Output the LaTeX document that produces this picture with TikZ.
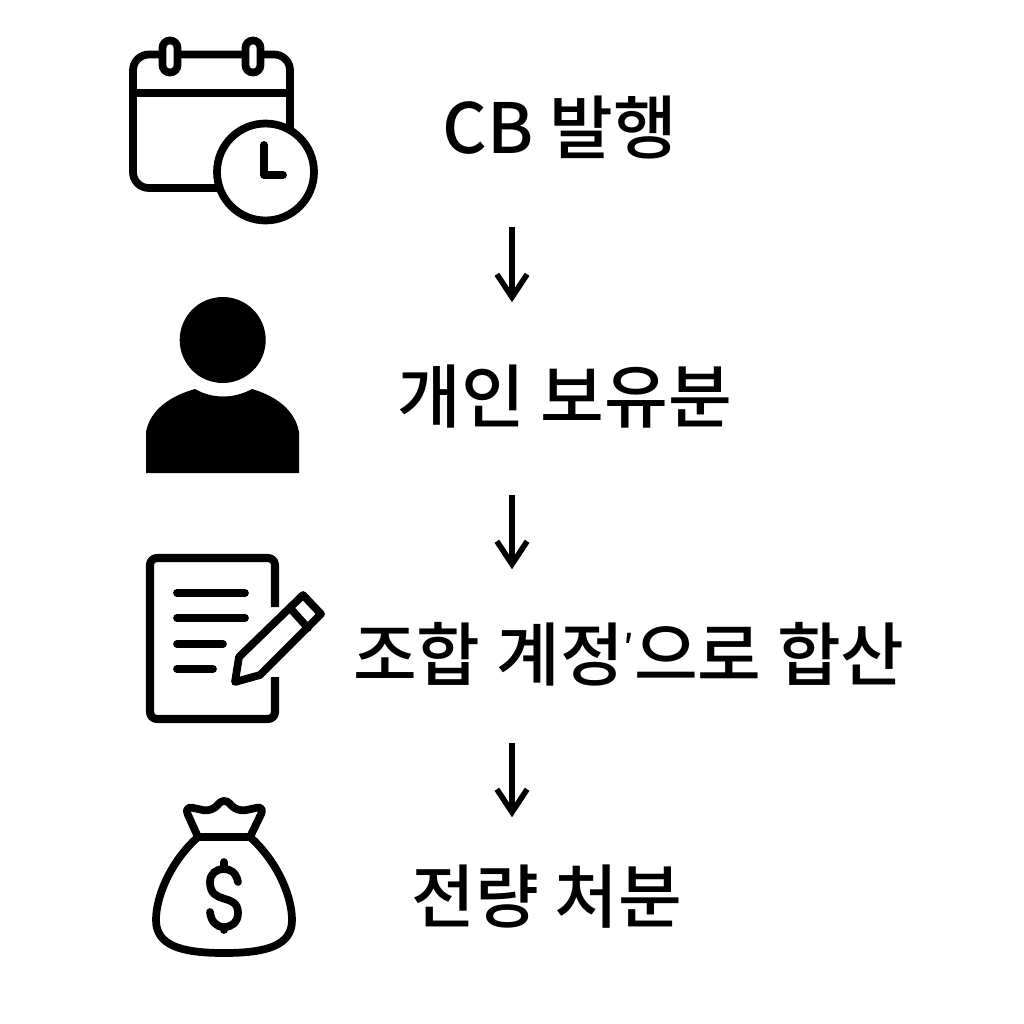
\documentclass[tikz,border=0pt]{standalone}
\usepackage{fontspec}
\setmainfont{Noto Sans CJK KR Medium}
\usetikzlibrary{arrows.meta}
\newcommand{\ticksign}{\raisebox{5.6pt}{\fontsize{10pt}{10pt}\selectfont\char"2032}}
\tikzset{
    flowtext/.style={inner sep=0pt, minimum height=1.5cm, font=\fontsize{19.7pt}{24pt}\selectfont},
    flowarrow/.style={line width=1.6pt, -{Straight Barb[length=6.5pt, width=8.6pt, line width=1.6pt]}},
    iconline/.style={line width=2.2pt, line cap=round, line join=round},
}
\begin{document}
\begin{tikzpicture}[x=0.01cm, y=-0.01cm]
    \useasboundingbox (0,0) rectangle (1024,1024);
    % labels
    \node[flowtext] (issue) at (560,128) {CB 발행};
    \node[flowtext] (holding) at (565,397) {개인 보유분};
    \node[flowtext] (merge) at (629,654) {조합 계정\ticksign 으로 합산};
    \node[flowtext] (sale) at (547,897) {전량 처분};
    \coordinate (axis) at (512,0);
    % arrows
    \draw[flowarrow, shorten <=0.23cm, shorten >=0.19cm] (axis |- issue.south) -- (axis |- holding.north);
    \draw[flowarrow, shorten <=0.22cm, shorten >=0.09cm] (axis |- holding.south) -- (axis |- merge.north);
    \draw[flowarrow, shorten <=0.13cm, shorten >=0.04cm] (axis |- merge.south) -- (axis |- sale.north);
    % calendar
    \draw[iconline, rounded corners=4.5pt] (133,54.5) rectangle (290,188);
    \draw[iconline] (133,93) -- (290,93);
    \foreach \ringx in {170,253} {
        \draw[iconline, fill=white, rounded corners=2.1pt] (\ringx-7.5,40.5) rectangle (\ringx+7.5,72.5);
    }
    \draw[iconline, fill=white] (265.5,172) circle (48.5);
    \draw[iconline] (264,145) -- (264,175) -- (283,175);
    % person
    \fill (222.7,340) circle (43);
    \fill (146,473) -- (146,432) .. controls (150,410) and (170,396) .. (195,389)
        .. controls (212,399) and (234,399) .. (252,389)
        .. controls (276,396) and (295,410) .. (299,432) -- (299,473) -- cycle;
    % document
    \draw[line width=2.3pt, line join=round, line cap=butt, rounded corners=2pt]
        (275,607) -- (275,558) -- (150,558) -- (150,719) -- (275,719) -- (275,677);
    \draw[iconline] (177,593) -- (245,593);
    \draw[iconline] (177,618) -- (245,618);
    \draw[iconline] (177,644) -- (223,644);
    \draw[iconline] (177,669) -- (213,669);
    % pencil
    \draw[iconline] (235,682) -- (239,657) -- (303,595) -- (321,614) -- (260,675) -- cycle;
    \draw[iconline] (290,608) -- (308,628);
    % money bag
    \draw[iconline] (198,837) .. controls (172,860) and (156,895) .. (156,920)
        .. controls (156,945) and (180,953) .. (224,953)
        .. controls (268,953) and (292,945) .. (292,920)
        .. controls (292,895) and (276,860) .. (250,837) -- cycle;
    \draw[iconline, rounded corners=2.5pt] (198,837) -- (184,806) -- (212,812) -- (224,797)
        -- (237,812) -- (265,806) -- (250,837);
    \draw[iconline] (238,882) .. controls (236,872) and (230,869) .. (224,869)
        .. controls (216,869) and (210,874) .. (210,882)
        .. controls (210,906) and (238,892) .. (238,913)
        .. controls (238,922) and (232,927) .. (224,927)
        .. controls (216,927) and (211,921) .. (210,912);
    \draw[iconline] (224,862) -- (224,869);
    \draw[iconline] (224,927) -- (224,930);
\end{tikzpicture}
\end{document}
